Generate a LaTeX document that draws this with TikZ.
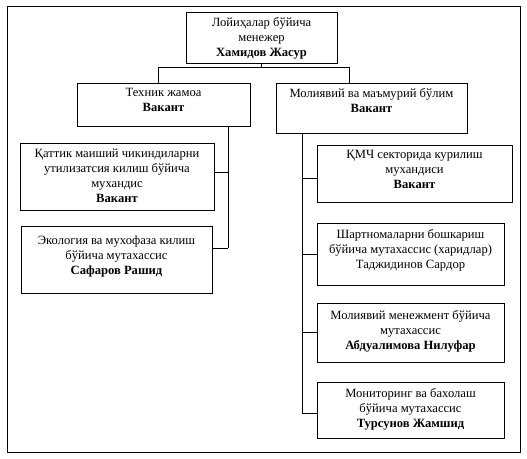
\documentclass[tikz,border=0pt]{standalone}
\usepackage{fontspec}
\setmainfont{Liberation Serif}
\begin{document}
\begin{tikzpicture}[x=1pt,y=-1pt,
  box/.style={draw, line width=1pt, inner sep=0pt, anchor=center},
  txt/.style={anchor=north, align=center, inner sep=0pt, font=\fontsize{12.6}{15}\selectfont},
  conn/.style={line width=0.9pt}]
\useasboundingbox (0,0) rectangle (527,458);
\draw[line width=1pt] (7,6) rectangle (520,452);
% boxes
\node[box, minimum width=151pt, minimum height=51pt] (top) at (261.5,37.5) {};
\node[box, minimum width=173pt, minimum height=43pt] (tech) at (163.5,104.5) {};
\node[box, minimum width=191pt, minimum height=50pt] (fin) at (371.5,108) {};
\node[box, minimum width=194pt, minimum height=67pt] (b1) at (117,176.5) {};
\node[box, minimum width=191pt, minimum height=67pt] (b2) at (116.5,259.5) {};
\node[box, minimum width=195pt, minimum height=57pt] (r1) at (414.5,173.5) {};
\node[box, minimum width=187pt, minimum height=62pt] (r2) at (410.5,254) {};
\node[box, minimum width=187pt, minimum height=59pt] (r3) at (410.5,332.5) {};
\node[box, minimum width=187pt, minimum height=56pt] (r4) at (410.5,410) {};
% texts
\node[txt] (ttop) at ([yshift=-6pt]top.north) {Лойиҳалар бўйича\\менежер\\\textbf{Хамидов Жасур}};
\node[txt] (ttech) at ([yshift=-6pt]tech.north) {Техник жамоа\\\textbf{Вакант}};
\node[txt] (tfin) at ([yshift=-6pt]fin.north) {Молиявий ва маъмурий бўлим\\\textbf{Вакант}};
\node[txt] (tb1) at ([yshift=-6pt]b1.north) {Қаттик маиший чикиндиларни\\утилизатсия килиш бўйича\\мухандис\\\textbf{Вакант}};
\node[txt] (tb2) at ([yshift=-10pt]b2.north) {Экология ва мухофаза килиш\\бўйича мутахассис\\\textbf{Сафаров Рашид}};
\node[txt] (tr1) at ([yshift=-6pt]r1.north) {ҚМЧ секторида курилиш\\мухандиси\\\textbf{Вакант}};
\node[txt] (tr2) at ([yshift=-7pt]r2.north) {Шартномаларни бошкариш\\бўйича мутахассис (харидлар)\\Таджидинов Сардор};
\node[txt] (tr3) at ([yshift=-8pt]r3.north) {Молиявий менежмент бўйича\\мутахассис\\\textbf{Абдуалимова Нилуфар}};
\node[txt] (tr4) at ([yshift=-7pt]r4.north) {Мониторинг ва бахолаш\\бўйича мутахассис\\\textbf{Турсунов Жамшид}};
% connectors
\coordinate (hub) at (261.5,67);
\coordinate (hl) at (158,67);
\coordinate (hr) at (349,67);
\draw[conn] (top.south) -- (hub);
\draw[conn] (hl) -- (hr);
\draw[conn] (hl) -- (hl |- tech.north);
\draw[conn] (hr) -- (hr |- fin.north);
\coordinate (lt) at (228,126);
\coordinate (lb) at (228,248);
\draw[conn] (lt |- tech.south) -- (lb);
\draw[conn] (lb) -- (lb -| b2.east);
\draw[conn] (228,172) -- (b1.east |- 0,172);
\coordinate (rt) at (302,133);
\coordinate (rb) at (302,413);
\draw[conn] (rt |- fin.south) -- (rb);
\draw[conn] (rb) -- (rb -| r4.west);
\draw[conn] (302,178) -- (r1.west |- 0,178);
\draw[conn] (302,254) -- (r2.west |- 0,254);
\draw[conn] (302,332) -- (r3.west |- 0,332);
\end{tikzpicture}
\end{document}
